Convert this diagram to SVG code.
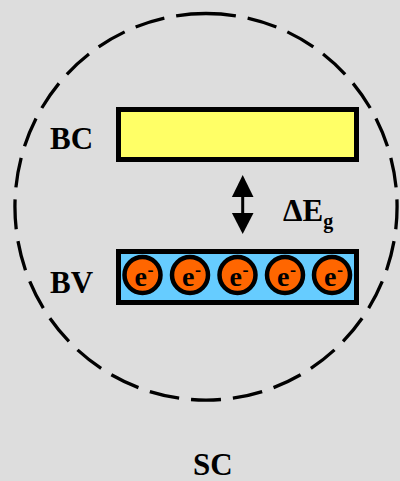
<svg xmlns="http://www.w3.org/2000/svg" width="400" height="481" viewBox="0 0 400 481">
<style>
.lbl{font-family:"Liberation Serif","Times New Roman",serif;font-weight:bold;fill:#000;}
.band{stroke:#000;stroke-width:5;}
.el{fill:#FF6600;stroke:#000;stroke-width:4.5;}
.et{font-family:"Liberation Serif","Times New Roman",serif;font-weight:bold;font-size:28px;fill:#000;}
.em{font-family:"Liberation Serif","Times New Roman",serif;font-weight:bold;font-size:18px;fill:#000;}
</style>
<rect x="0" y="0" width="400" height="481" fill="#DDDDDD"/>
<g id="sc-boundary">
<path d="M206,13.5 A191,193.3 0 1 1 206,400.1 A191,193.3 0 1 1 206,13.5" fill="none" stroke="#000" stroke-width="3.3" stroke-dasharray="30 12" pathLength="1206"/>
</g>
<g id="bc">
<rect class="band" x="118.5" y="109.5" width="238" height="50" fill="#FFFF66"/>
<text class="lbl" x="50" y="149" font-size="31">BC</text>
</g>
<g id="bv">
<rect class="band" x="118.5" y="251.5" width="238" height="51" fill="#66CCFF"/>
<text class="lbl" x="50" y="293" font-size="31">BV</text>
</g>
<g id="electrons">
<g id="e1"><circle class="el" cx="142.5" cy="275" r="18"/><text class="et" x="134.5" y="285.5">e</text><text class="em" x="147.5" y="276">-</text></g>
<g id="e2"><circle class="el" cx="190" cy="275" r="18"/><text class="et" x="182" y="285.5">e</text><text class="em" x="195" y="276">-</text></g>
<g id="e3"><circle class="el" cx="237.5" cy="275" r="18"/><text class="et" x="229.5" y="285.5">e</text><text class="em" x="242.5" y="276">-</text></g>
<g id="e4"><circle class="el" cx="285" cy="275" r="18"/><text class="et" x="277" y="285.5">e</text><text class="em" x="290" y="276">-</text></g>
<g id="e5"><circle class="el" cx="332" cy="275" r="18"/><text class="et" x="324" y="285.5">e</text><text class="em" x="337" y="276">-</text></g>
</g>
<g id="connectors">
<polygon points="242.7,175 253.5,197 231.9,197" fill="#000"/>
<rect x="241.2" y="196" width="3" height="18" fill="#000"/>
<polygon points="242.7,234 253.5,213 231.9,213" fill="#000"/>
</g>
<g id="gap-label">
<text class="lbl" x="283" y="221" font-size="31">ΔE<tspan font-size="20" dy="7">g</tspan></text>
</g>
<g id="sc-label">
<text class="lbl" x="193" y="475" font-size="31">SC</text>
</g>
</svg>
